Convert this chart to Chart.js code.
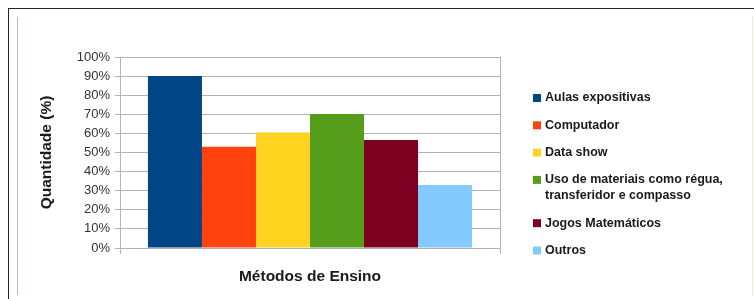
<!DOCTYPE html>
<html>
<head>
<meta charset="utf-8">
<script src="https://cdn.jsdelivr.net/npm/chart.js@4.4.1/dist/chart.umd.min.js"></script>
<style>
  html, body { margin: 0; padding: 0; background: #fff; }
  #wrap { position: relative; width: 754px; height: 299px; overflow: hidden; }
  #frame { position: absolute; left: 8px; top: 8px; width: 760px; height: 300px;
           border-top: 1.5px solid #262626; border-left: 1.5px solid #262626; }
  #inner { position: absolute; left: 17px; top: 17px; width: 734px; height: 278px;
           border-left: 1px solid #b7bfd6; border-right: 1px solid #efe9da; }
  canvas { position: absolute; left: 0; top: 0; }
</style>
</head>
<body>
<div id="wrap">
  <div id="frame"></div>
  <div id="inner"></div>
  <canvas id="myChart" width="754" height="299"></canvas>
</div>
<script>
// grafico - metodos de ensino

const categorias = [''];

const series = [
    ['Aulas expositivas'],
    ['Computador'],
    ['Data show'],
    ['Uso de materiais como régua,', 'transferidor e compasso'],
    ['Jogos Matemáticos'],
    ['Outros'],
];

const valores = [90, 53, 60.5, 70.2, 56.5, 33];

const cores = ['#004586', '#ff420e', '#ffd320', '#579d1c', '#7e0021', '#83caff'];

const ticksY = [0, 10, 20, 30, 40, 50, 60, 70, 80, 90, 100];

const fonte = '"Liberation Sans", Arial, sans-serif';

const ctx = document.getElementById('myChart').getContext('2d');

const datasets = series.map(function (nome, i) {
    return {
        label: nome,
        data: [valores[i]],
        backgroundColor: cores[i],
        borderWidth: 0,
        categoryPercentage: 0.853,
        barPercentage: 1.0,
    };
});

// legenda desenhada à mão (item de duas linhas)
const legendaPlugin = {
    id: 'legendaLateral',
    afterDraw(chart) {
        const c = chart.ctx;
        const x0 = chart.chartArea.right + 33;
        let y = 98;
        c.save();
        c.font = 'bold 12.5px ' + fonte;
        c.textBaseline = 'middle';
        c.textAlign = 'left';
        chart.data.datasets.forEach(function (ds) {
            c.fillStyle = ds.backgroundColor;
            c.fillRect(x0, y - 4, 8, 8);
            c.fillStyle = '#1a1a1a';
            ds.label.forEach(function (linha, k) {
                c.fillText(linha, x0 + 12, y + k * 16);
            });
            y += 27.3 + (ds.label.length - 1) * 16;
        });
        c.restore();
    }
};

const config = {
    type: 'bar',
    data: {
        labels: categorias,
        datasets: datasets,
    },
    options: {
        responsive: false,
        animation: false,
        layout: {
            padding: { left: 0, top: 57, right: 254, bottom: 0 }
        },
        plugins: {
            legend: { display: false },
            tooltip: { enabled: false },
        },
        scales: {
            x: {
                grid: { color: '#b3b3b3', tickLength: 6, offset: true },
                border: { color: '#b3b3b3' },
                ticks: { display: false },
                title: {
                    display: true,
                    text: 'Métodos de Ensino',
                    color: '#1a1a1a',
                    font: { family: fonte, size: 15.5, weight: 'bold' },
                    padding: { top: 0, bottom: 12.5 },
                },
                afterFit: function (scale) { scale.height = 51; },
            },
            y: {
                min: 0,
                max: 100,
                afterBuildTicks: function (scale) {
                    scale.ticks = ticksY.map(function (v) { return { value: v }; });
                },
                grid: { color: '#b3b3b3', tickLength: 5 },
                border: { color: '#b3b3b3' },
                ticks: {
                    padding: 5,
                    color: '#333333',
                    font: { family: fonte, size: 13 },
                    callback: function (value) {
                        return value + '%';
                    }
                },
                title: {
                    display: true,
                    text: 'Quantidade (%)',
                    color: '#1a1a1a',
                    font: { family: fonte, size: 15.5, weight: 'bold' },
                    padding: { top: 37, bottom: 0 },
                },
                afterFit: function (scale) { scale.width = 120; },
            }
        }
    },
    plugins: [legendaPlugin],
};

const myChart = new Chart(ctx, config);
</script>
</body>
</html>
